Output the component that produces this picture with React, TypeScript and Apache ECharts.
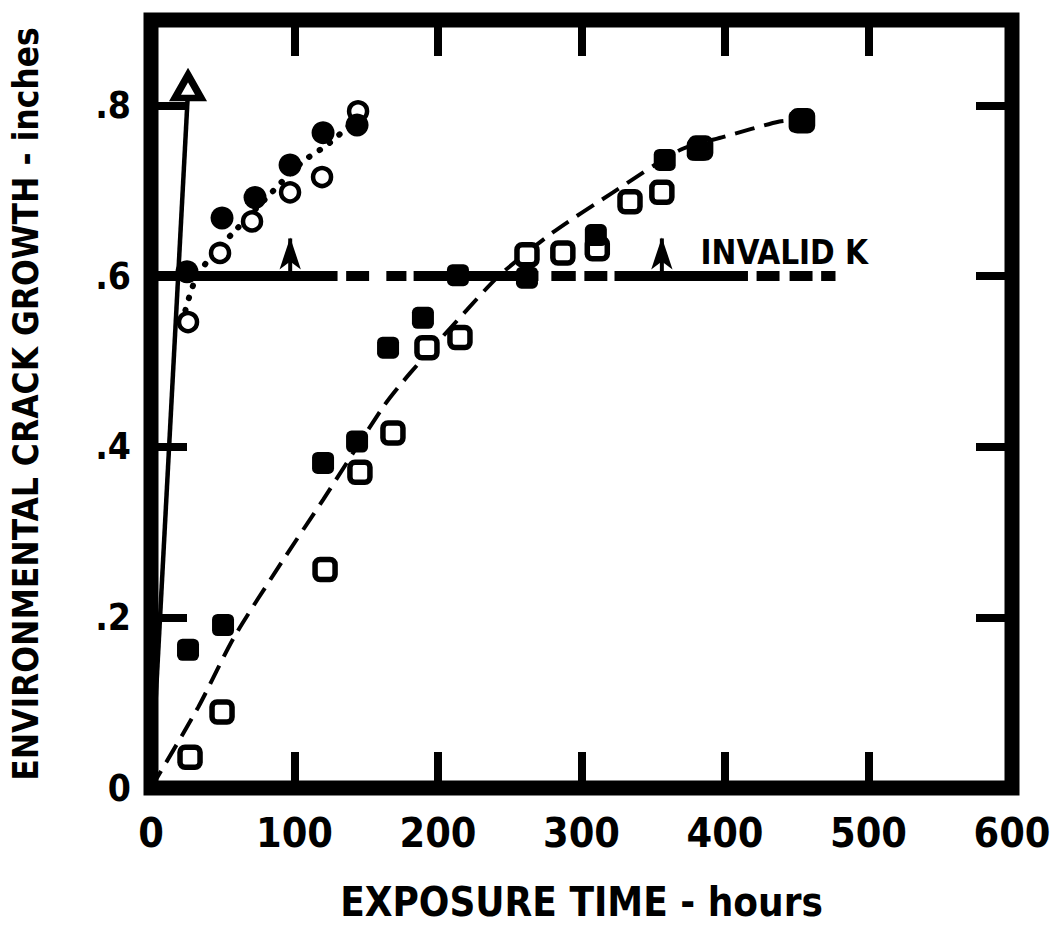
import React, { useEffect, useRef } from "react";
import * as echarts from "echarts";

// ---------- data ----------
const xTicks = [0, 100, 200, 300, 400, 500, 600];
const xTickLabels = ["0", "100", "200", "300", "400", "500", "600"];
const yTicks = [0, 0.2, 0.4, 0.6, 0.8];
const yTickLabels = ["0", ".2", ".4", ".6", ".8"];

const xTitle = "EXPOSURE TIME - hours";
const yTitle = "ENVIRONMENTAL CRACK GROWTH - inches";

// open triangle and its solid line from the origin
const triangleLine: [number, number][] = [
  [0, 0],
  [25.5, 0.808],
];
const trianglePoints: [number, number][] = [[25.8, 0.822]];

// circles
const filledCircles: [number, number][] = [
  [25.1, 0.605],
  [49.5, 0.668],
  [72.5, 0.692],
  [96.9, 0.73],
  [119.9, 0.768],
  [143.6, 0.777],
];
const openCircles: [number, number][] = [
  [25.8, 0.546],
  [48.1, 0.627],
  [70.4, 0.664],
  [96.9, 0.698],
  [119.2, 0.716],
  [144.3, 0.793],
];
const circleFit: [number, number][] = [
  [24, 0.56],
  [31, 0.596],
  [42, 0.623],
  [58, 0.652],
  [79, 0.689],
  [105, 0.733],
  [123, 0.754],
  [142, 0.782],
];

// squares
const openSquares: [number, number][] = [
  [27.2, 0.036],
  [49.5, 0.089],
  [121.3, 0.256],
  [145.6, 0.37],
  [168.6, 0.416],
  [192.3, 0.516],
  [215.3, 0.528],
  [262, 0.625],
  [287, 0.627],
  [311, 0.632],
  [333.8, 0.687],
  [356, 0.698],
  [383, 0.75],
  [454, 0.782],
];
const filledSquares: [number, number][] = [
  [25.8, 0.162],
  [50.2, 0.191],
  [119.9, 0.381],
  [143.6, 0.406],
  [165.2, 0.516],
  [189.5, 0.551],
  [213.9, 0.601],
  [262, 0.598],
  [310, 0.648],
  [358, 0.736],
  [381, 0.748],
  [452, 0.781],
];
const squareFit: [number, number][] = [
  [0, 0],
  [33, 0.095],
  [58, 0.177],
  [92, 0.267],
  [120, 0.338],
  [162, 0.447],
  [181, 0.487],
  [220, 0.56],
  [243, 0.601],
  [280, 0.651],
  [322, 0.698],
  [369, 0.748],
  [399, 0.763],
  [438, 0.781],
  [452, 0.783],
];

// "INVALID K" level line (solid runs and dashes) and its arrows
const invalidKLevel = 0.6;
const invalidKSegments: [number, number][] = [
  [0, 130],
  [136, 152],
  [164, 178],
  [183, 270],
  [279, 296],
  [302, 318],
  [323, 416],
  [422, 438],
  [445, 461],
  [467, 477],
];
const arrowXs = [97, 356];
const arrowTip = 0.664;
const invalidKText = "INVALID K";
const invalidKLabelPos: [number, number] = [382.6, 0.628];

// ---------- chart ----------
const FONT = "'Liberation Sans Narrow', 'DejaVu Sans Condensed', 'Roboto', sans-serif";

function labelFor(ticks: number[], labels: string[], v: number) {
  const i = ticks.findIndex((t) => Math.abs(t - v) < 1e-6);
  return i >= 0 ? labels[i] : "";
}

export default function App() {
  const ref = useRef<HTMLDivElement>(null);

  useEffect(() => {
    if (!ref.current) return;
    const chart = echarts.init(ref.current, undefined, { renderer: "svg" });

    const tickStyle = {
      show: true,
      inside: true,
      length: 36,
      lineStyle: { color: "#000", width: 8 },
    };

    const segmentSeries = invalidKSegments.map((s, i) => ({
      name: "invalidK" + i,
      type: "line",
      data: [
        [s[0], invalidKLevel],
        [s[1], invalidKLevel],
      ],
      symbol: "none",
      lineStyle: { color: "#000", width: 10, cap: "butt" },
      z: 3,
      silent: true,
    }));

    const arrowShafts = arrowXs.map((x, i) => ({
      name: "arrowShaft" + i,
      type: "line",
      data: [
        [x, invalidKLevel],
        [x, arrowTip - 0.02],
      ],
      symbol: "none",
      lineStyle: { color: "#000", width: 4, cap: "butt" },
      z: 3,
      silent: true,
    }));

    const option: any = {
      animation: false,
      backgroundColor: "#fff",
      grid: {
        left: 151,
        right: 38,
        top: 20,
        bottom: 139,
        show: true,
        borderColor: "#000",
        borderWidth: 15,
        backgroundColor: "transparent",
        containLabel: false,
        outerBoundsMode: "none",
      },
      xAxis: [
        {
          type: "value",
          min: 0,
          max: 600,
          interval: 100,
          position: "bottom",
          axisLine: { show: false, onZero: false },
          axisTick: tickStyle,
          splitLine: { show: false },
          axisLabel: {
            margin: 24,
            color: "#000",
            fontSize: 41,
            fontWeight: "bold",
            fontFamily: FONT,
            formatter: (v: number) => labelFor(xTicks, xTickLabels, v),
          },
          name: xTitle,
          nameLocation: "middle",
          nameGap: 94,
          nameTextStyle: {
            color: "#000",
            fontSize: 40,
            fontWeight: "bold",
            fontFamily: FONT,
          },
        },
        {
          type: "value",
          min: 0,
          max: 600,
          interval: 100,
          position: "top",
          axisLine: { show: false, onZero: false },
          axisTick: tickStyle,
          splitLine: { show: false },
          axisLabel: { show: false },
        },
      ],
      yAxis: [
        {
          type: "value",
          min: 0,
          max: 0.9,
          interval: 0.2,
          position: "left",
          axisLine: { show: false, onZero: false },
          axisTick: tickStyle,
          splitLine: { show: false },
          axisLabel: {
            margin: 20,
            color: "#000",
            fontSize: 37,
            fontWeight: "bold",
            fontFamily: FONT,
            formatter: (v: number) => labelFor(yTicks, yTickLabels, v),
          },
          name: yTitle,
          nameLocation: "middle",
          nameGap: 108,
          nameRotate: 90,
          nameTextStyle: {
            color: "#000",
            fontSize: 35,
            fontWeight: "bold",
            fontFamily: FONT,
          },
        },
        {
          type: "value",
          min: 0,
          max: 0.9,
          interval: 0.2,
          position: "right",
          axisLine: { show: false, onZero: false },
          axisTick: tickStyle,
          splitLine: { show: false },
          axisLabel: { show: false },
        },
      ],
      series: [
        {
          name: "triangleLine",
          type: "line",
          data: triangleLine,
          symbol: "none",
          lineStyle: { color: "#000", width: 4.5 },
          z: 3,
          silent: true,
        },
        {
          name: "circleFit",
          type: "line",
          data: circleFit,
          smooth: 0.3,
          symbol: "none",
          lineStyle: { color: "#000", width: 6, type: [0.5, 12], cap: "round" },
          z: 3,
          silent: true,
        },
        {
          name: "squareFit",
          type: "line",
          data: squareFit,
          smooth: 0.25,
          symbol: "none",
          lineStyle: { color: "#000", width: 4, type: [20, 10], cap: "butt" },
          z: 3,
          silent: true,
        },
        ...segmentSeries,
        ...arrowShafts,
        {
          name: "arrowHeads",
          type: "scatter",
          data: arrowXs.map((x) => [x, arrowTip]),
          symbol: "arrow",
          symbolSize: [16, 32],
          symbolOffset: [0, "50%"],
          itemStyle: { color: "#000", opacity: 1 },
          z: 4,
          silent: true,
        },
        {
          name: "openSquares",
          type: "scatter",
          data: openSquares,
          symbol: "roundRect",
          symbolSize: 20,
          itemStyle: { color: "#fff", borderColor: "#000", borderWidth: 5.5, opacity: 1 },
          z: 5,
          silent: true,
        },
        {
          name: "filledSquares",
          type: "scatter",
          data: filledSquares,
          symbol: "roundRect",
          symbolSize: 22,
          itemStyle: { color: "#000", opacity: 1 },
          z: 6,
          silent: true,
        },
        {
          name: "openCircles",
          type: "scatter",
          data: openCircles,
          symbol: "circle",
          symbolSize: 18,
          itemStyle: { color: "#fff", borderColor: "#000", borderWidth: 4.5, opacity: 1 },
          z: 6,
          silent: true,
        },
        {
          name: "filledCircles",
          type: "scatter",
          data: filledCircles,
          symbol: "circle",
          symbolSize: 23,
          itemStyle: { color: "#000", opacity: 1 },
          z: 7,
          silent: true,
        },
        {
          name: "triangle",
          type: "scatter",
          data: trianglePoints,
          symbol: "triangle",
          symbolSize: [26, 23],
          itemStyle: { color: "#fff", borderColor: "#000", borderWidth: 7, opacity: 1 },
          z: 7,
          silent: true,
        },
        {
          name: "invalidKLabel",
          type: "scatter",
          data: [invalidKLabelPos],
          symbolSize: 1,
          itemStyle: { color: "rgba(0,0,0,0)", opacity: 1 },
          label: {
            show: true,
            formatter: invalidKText,
            position: "right",
            distance: 0,
            color: "#000",
            fontSize: 33,
            fontWeight: "bold",
            fontFamily: FONT,
          },
          z: 7,
          silent: true,
        },
      ],
    };

    chart.setOption(option);
    return () => chart.dispose();
  }, []);

  return (
    <div
      ref={ref}
      style={{
        position: "fixed",
        left: 0,
        top: 0,
        width: 1050,
        height: 927,
        background: "#fff",
      }}
    />
  );
}
